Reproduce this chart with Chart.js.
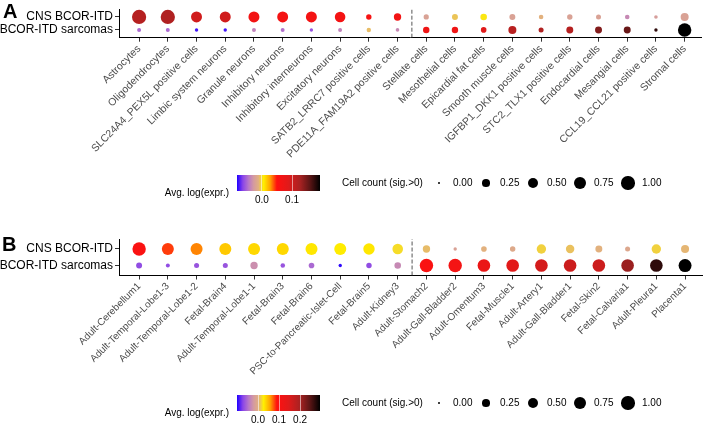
<!DOCTYPE html>
<html><head><meta charset="utf-8">
<script src="https://cdn.jsdelivr.net/npm/chart.js@4.4.1/dist/chart.umd.min.js"></script>
<style>
body{margin:0;background:#fff;width:709px;height:425px;overflow:hidden;position:relative;font-family:"Liberation Sans",Arial,sans-serif;}
.abs{position:absolute;}
.txt{position:absolute;white-space:nowrap;color:#000;font-size:10px;line-height:12px;}
</style></head><body>
<div class="abs" style="left:0;top:0;width:709px;height:220px"><canvas id="cA" width="709" height="220"></canvas></div>
<div class="abs" style="left:0;top:220px;width:709px;height:205px"><canvas id="cB" width="709" height="205"></canvas></div>
<div id="overlay"></div>
<script>
// ---------- data ----------
const rowLabels = ["BCOR-ITD sarcomas", "CNS BCOR-ITD"]; // y = 0, y = 1

const categoriesA = ["Astrocytes","Oligodendrocytes","SLC24A4_PEX5L positive cells","Limbic system neurons","Granule neurons","Inhibitory neurons","Inhibitory interneurons","Excitatory neurons","SATB2_LRRC7 positive cells","PDE11A_FAM19A2 positive cells","Stellate cells","Mesothelial cells","Epicardial fat cells","Smooth muscle cells","IGFBP1_DKK1 positive cells","STC2_TLX1 positive cells","Endocardial cells","Mesangial cells","CCL19_CCL21 positive cells","Stromal cells"];
const brainCountA = 10;
const exprA_CNS  = [0.118,0.121,0.099,0.099,0.066,0.063,0.063,0.063,0.061,0.066,-0.022,-0.006,0.003,-0.022,-0.011,-0.022,-0.022,-0.036,-0.025,-0.022];
const exprA_Sarc = [-0.050,-0.050,-0.077,-0.077,-0.039,-0.047,-0.058,-0.039,-0.008,-0.036,0.069,0.069,0.088,0.116,0.121,0.118,0.143,0.154,0.176,0.193];
const countA_CNS  = [1.15,1.15,0.62,0.62,0.62,0.62,0.62,0.57,0.09,0.22,0.08,0.12,0.16,0.12,0.05,0.09,0.07,0.05,0.02,0.28];
const countA_Sarc = [0.03,0.03,0.015,0.015,0.03,0.03,0.015,0.03,0.045,0.02,0.15,0.15,0.10,0.28,0.07,0.19,0.19,0.19,0.015,1.0];
const exprLimitsA = [-0.083, 0.193];
const exprTicksA = [0.0, 0.1];

const categoriesB = ["Adult-Cerebellum1","Adult-Temporal-Lobe1-3","Adult-Temporal-Lobe1-2","Fetal-Brain4","Adult-Temporal-Lobe1-1","Fetal-Brain3","Fetal-Brain6","PSC-to-Pancreatic-Islet-Cell","Fetal-Brain5","Adult-Kidney3","Adult-Stomach2","Adult-Gall-Bladder2","Adult-Omentum3","Fetal-Muscle1","Adult-Artery1","Adult-Gall-Bladder1","Fetal-Skin2","Fetal-Calvaria1","Adult-Pleura1","Placenta1"];
const brainCountB = 10;
const exprB_CNS  = [0.098,0.080,0.064,0.042,0.036,0.036,0.030,0.028,0.030,0.019,0.007,-0.013,0.003,-0.005,0.015,0.009,0.003,-0.007,0.015,0.005];
const exprB_Sarc = [-0.068,-0.068,-0.064,-0.064,-0.029,-0.064,-0.053,-0.096,-0.068,-0.033,0.098,0.109,0.125,0.141,0.157,0.165,0.165,0.208,0.271,0.295];
const countB_CNS  = [1.0,0.77,0.77,0.77,0.77,0.77,0.77,0.77,0.68,0.57,0.22,0.015,0.10,0.09,0.42,0.32,0.19,0.07,0.42,0.28];
const countB_Sarc = [0.12,0.03,0.07,0.07,0.22,0.05,0.10,0.015,0.09,0.16,1.0,1.0,0.87,0.87,0.87,0.87,0.87,0.87,0.87,0.93];
const exprLimitsB = [-0.10, 0.295];
const exprTicksB = [0.0, 0.1, 0.2];

const sizeBreaks = [0.00, 0.25, 0.50, 0.75, 1.00];

// ---------- scales / styles ----------
const FONT = "'Liberation Sans', Arial, Helvetica, sans-serif";
Chart.defaults.font.family = FONT;
const cmap = [
  [0.00,'#2000FF'],[0.07,'#8A45E8'],[0.14,'#B878C8'],[0.20,'#D49AA0'],[0.26,'#E2B080'],
  [0.32,'#FFF000'],[0.40,'#FFA000'],[0.48,'#FF1010'],[0.62,'#E01A1A'],[0.76,'#A82222'],
  [0.88,'#5A1515'],[1.00,'#000000']];
function hex2rgb(h){return [parseInt(h.slice(1,3),16),parseInt(h.slice(3,5),16),parseInt(h.slice(5,7),16)];}
function colorFor(v, lim){
  let t = (v-lim[0])/(lim[1]-lim[0]); t = Math.max(0,Math.min(1,t));
  for(let i=1;i<cmap.length;i++){
    if(t<=cmap[i][0]){
      const a=cmap[i-1], b=cmap[i]; const f=(t-a[0])/(b[0]-a[0]);
      const ca=hex2rgb(a[1]), cb=hex2rgb(b[1]);
      const c=ca.map((x,k)=>Math.round(x+(cb[k]-x)*f));
      return `rgb(${c[0]},${c[1]},${c[2]})`;
    }
  }
  return cmap[cmap.length-1][1];
}
function radius(v){ return 1 + 5.7*Math.sqrt(Math.max(0,v)); }

function makeChart(id, cats, exprCNS, exprSarc, cntCNS, cntSarc, lim, split, padTop, axisH, labelSize){
  const dotSet = (row, expr, cnt) => ({
    type:'scatter',
    data: cats.map((c,i)=>({x:i,y:row})),
    pointRadius: ctx=>radius(cnt[ctx.dataIndex]),
    pointHoverRadius: ctx=>radius(cnt[ctx.dataIndex]),
    pointBackgroundColor: ctx=>colorFor(expr[ctx.dataIndex], lim),
    pointBorderWidth: 0, pointBorderColor:'rgba(0,0,0,0)', clip:false
  });
  return new Chart(document.getElementById(id), {
    type:'scatter',
    data:{datasets:[
      dotSet(1, exprCNS, cntCNS),
      dotSet(0, exprSarc, cntSarc),
      {type:'line', data:[{x:split,y:-0.6},{x:split,y:1.6}], borderColor:'#555', borderWidth:1,
       borderDash:[4,2], pointRadius:0, fill:false}
    ]},
    options:{
      responsive:false, animation:false, events:[],
      layout:{padding:{top:padTop,left:0,right:0,bottom:0}},
      plugins:{legend:{display:false}, tooltip:{enabled:false}},
      scales:{
        x:{type:'linear', min:-0.7, max:cats.length-0.4,
           afterBuildTicks:s=>{s.ticks=cats.map((c,i)=>({value:i}));},
           afterFit:s=>{s.height=axisH;},
           ticks:{autoSkip:false,minRotation:45,maxRotation:45,padding:1,color:'#4d4d4d',
                  font:{size:labelSize,family:FONT}, callback:(v)=>cats[Math.round(v)]},
           grid:{drawOnChartArea:false,drawTicks:true,tickLength:4,color:'#333',lineWidth:1},
           border:{display:true,color:'#000',width:1}},
        y:{type:'linear', min:-0.6, max:1.6,
           afterBuildTicks:s=>{s.ticks=[{value:0},{value:1}];},
           afterFit:s=>{s.width=119;},
           ticks:{padding:2,color:'#000',font:{size:12,family:FONT}, callback:(v)=>rowLabels[Math.round(v)]},
           grid:{drawOnChartArea:false,drawTicks:true,tickLength:4,color:'#333',lineWidth:1},
           border:{display:true,color:'#000',width:1}}
      }
    }
  });
}

makeChart('cA', categoriesA, exprA_CNS, exprA_Sarc, countA_CNS, countA_Sarc, exprLimitsA, brainCountA-0.5, 5, 220-37.7, 10.5);
makeChart('cB', categoriesB, exprB_CNS, exprB_Sarc, countB_CNS, countB_Sarc, exprLimitsB, brainCountB-0.5, 19, 205-55.5, 10);

// ---------- panel letters & legends ----------
const ov = document.getElementById('overlay');
function addText(str, left, top, opts={}){
  const d=document.createElement('div'); d.className='txt'; d.textContent=str;
  d.style.left=left+'px'; d.style.top=top+'px';
  Object.assign(d.style, opts); ov.appendChild(d); return d;
}
addText('A', 3, 1, {fontSize:'20px',lineHeight:'20px',fontWeight:'bold'});
addText('B', 2, 234, {fontSize:'20px',lineHeight:'20px',fontWeight:'bold'});

function legend(y0, lim, ticks){
  const barL=237, barW=83, barH=16;
  addText('Avg. log(expr.)', 150, y0+12, {width:'79px',textAlign:'right'});
  const bar=document.createElement('div'); bar.className='abs';
  Object.assign(bar.style,{left:barL+'px',top:y0+'px',width:barW+'px',height:barH+'px',
    background:`linear-gradient(to right, ${cmap.map(s=>s[1]+' '+(s[0]*100)+'%').join(',')})`});
  ov.appendChild(bar);
  ticks.forEach(t=>{
    const x = barL + (t-lim[0])/(lim[1]-lim[0])*barW;
    const tk=document.createElement('div'); tk.className='abs';
    Object.assign(tk.style,{left:(x-0.5)+'px',top:y0+'px',width:'1px',height:barH+'px',background:'rgba(255,255,255,0.55)'});
    ov.appendChild(tk);
    addText(t.toFixed(1), x-15, y0+barH+3, {width:'30px',textAlign:'center'});
  });
  const cy = y0+8;
  addText('Cell count (sig.>0)', 342, cy-6.5);
  const dotX=[439,486,533,580,628];
  sizeBreaks.forEach((b,i)=>{
    const r=radius(b);
    const d=document.createElement('div'); d.className='abs';
    Object.assign(d.style,{left:(dotX[i]-r)+'px',top:(cy-r)+'px',width:(2*r)+'px',height:(2*r)+'px',borderRadius:'50%',background:'#000'});
    ov.appendChild(d);
    addText(b.toFixed(2), dotX[i]+14, cy-6.5);
  });
}
legend(175, exprLimitsA, exprTicksA);
legend(395, exprLimitsB, exprTicksB);
</script>
</body></html>
